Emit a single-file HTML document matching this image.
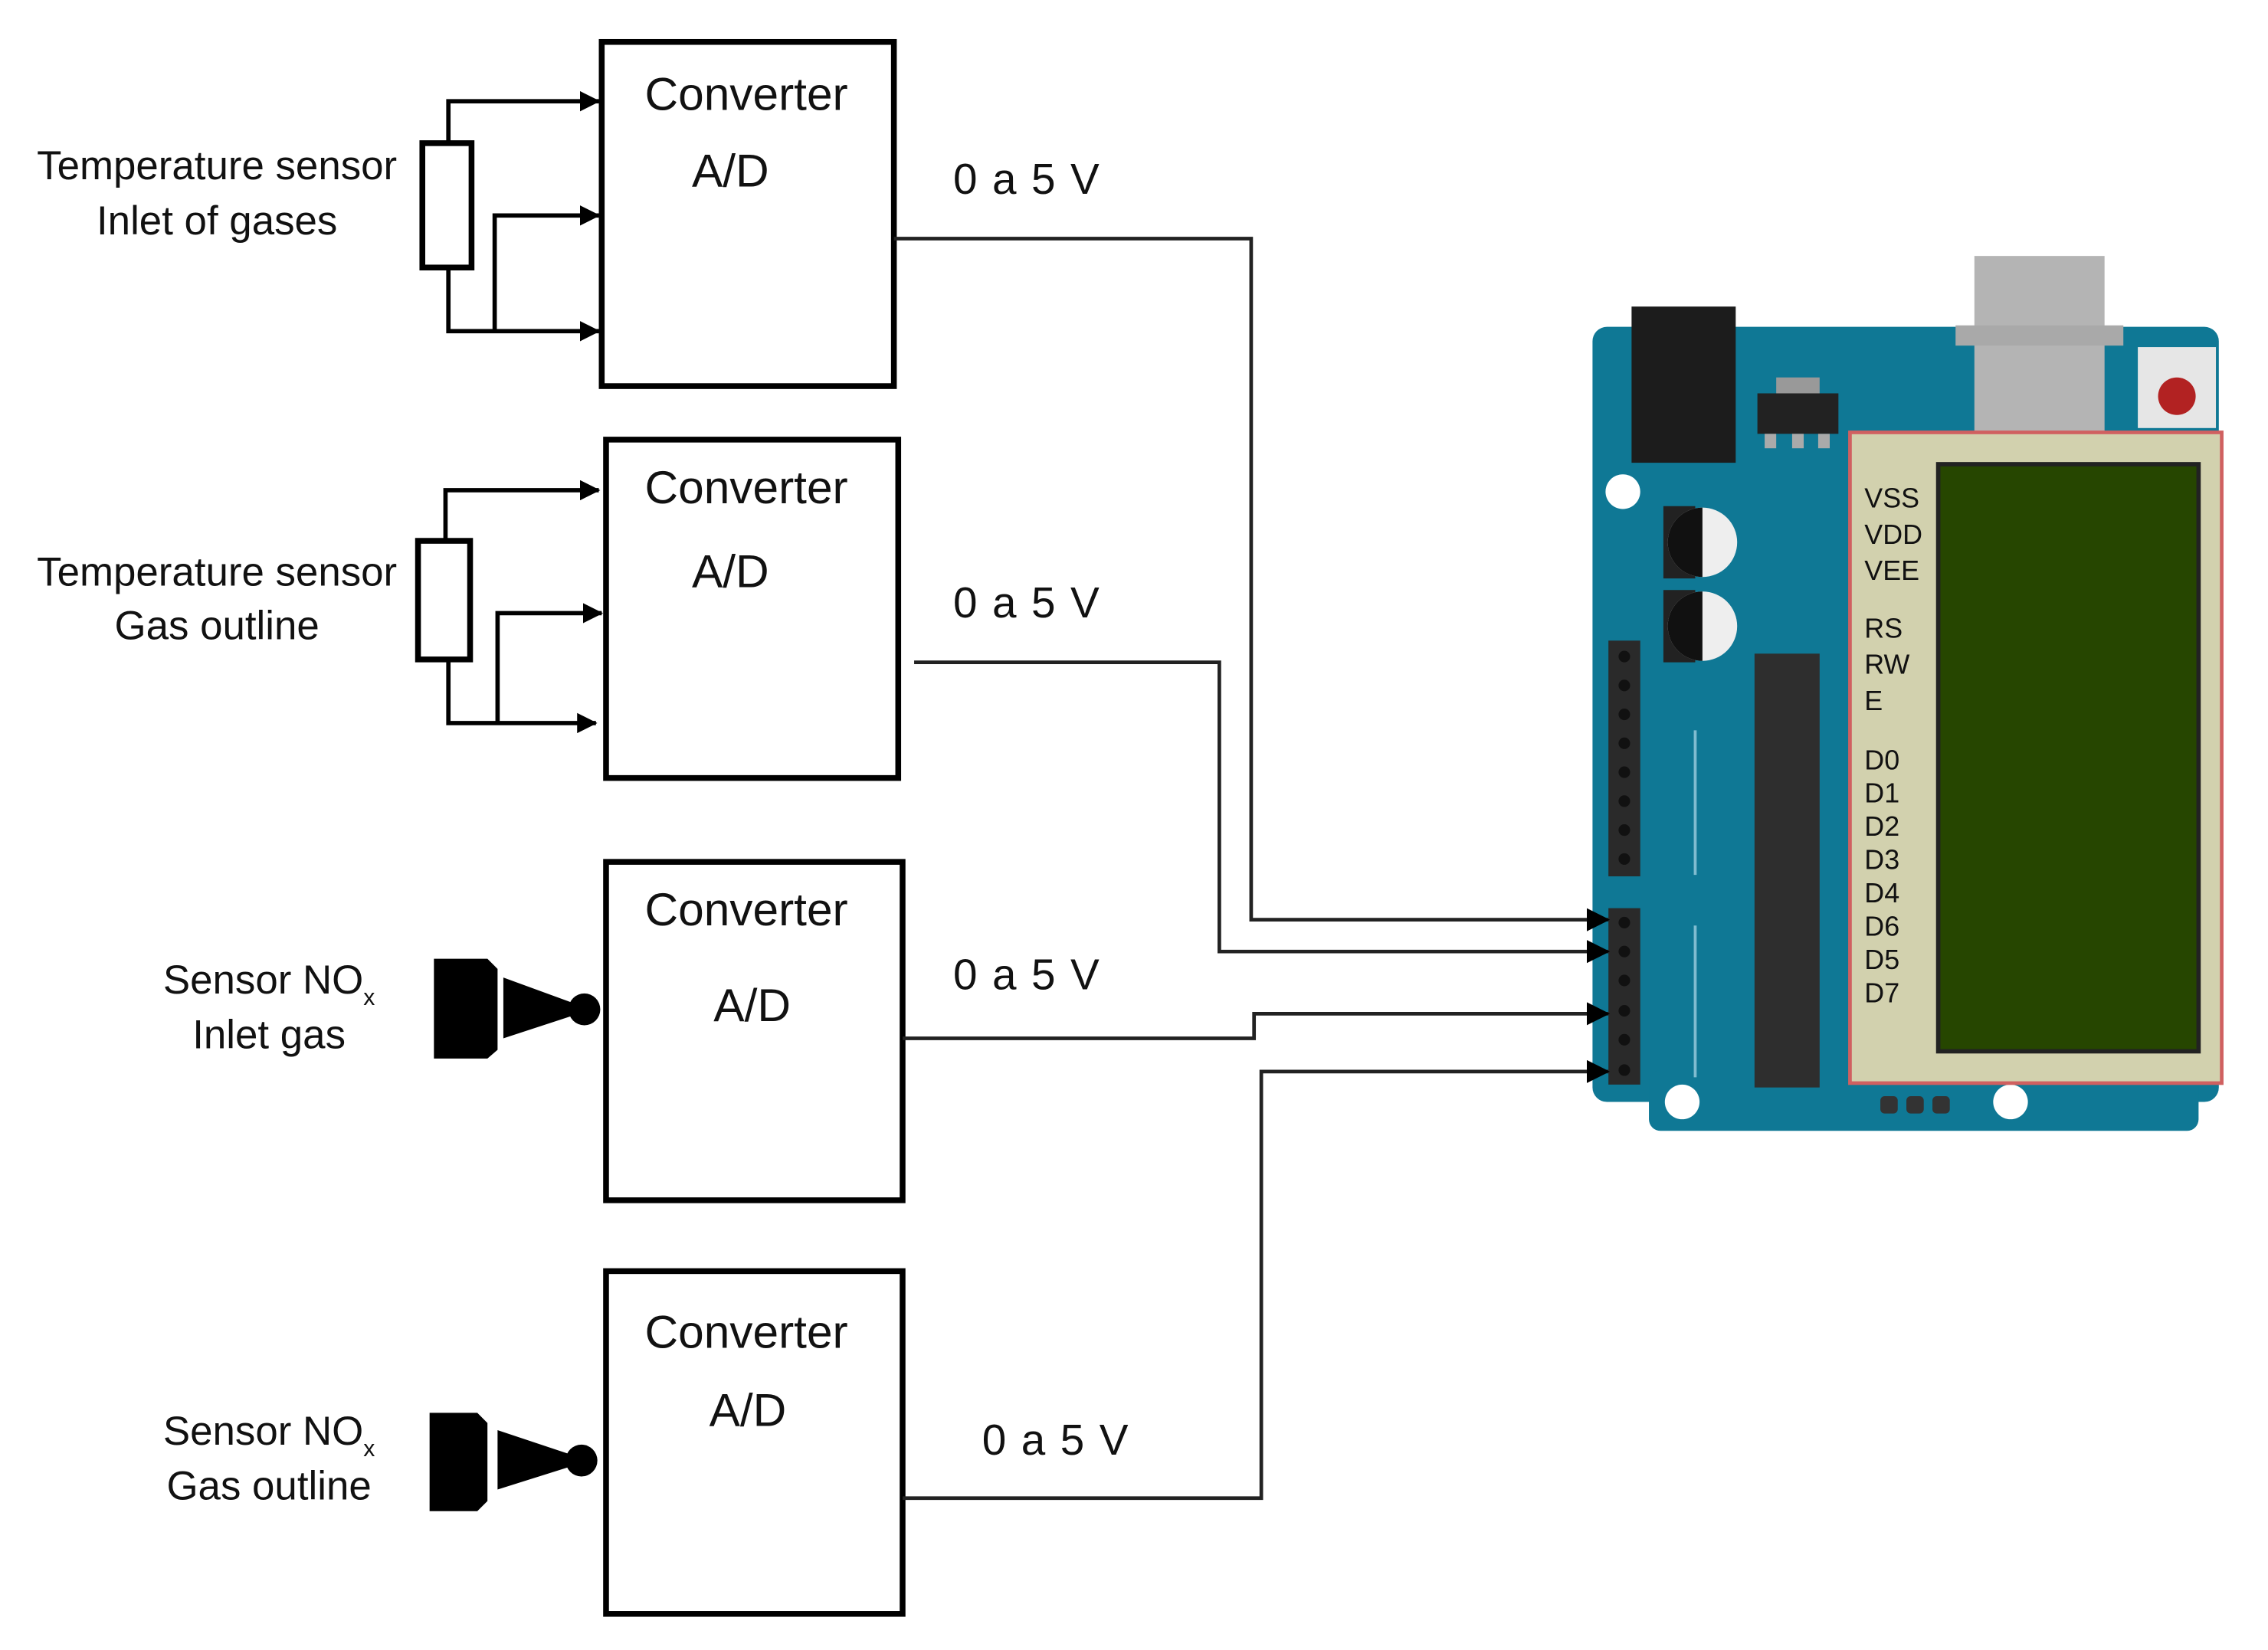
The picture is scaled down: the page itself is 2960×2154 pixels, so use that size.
<!DOCTYPE html>
<html><head><meta charset="utf-8"><style>
html,body{margin:0;padding:0;background:#fff;}
svg{display:block;}
text{font-family:"Liberation Sans",sans-serif;fill:#111;}
</style></head><body>
<svg width="2960" height="2154" viewBox="0 0 1568 1141" preserveAspectRatio="none" xmlns="http://www.w3.org/2000/svg">
<defs>
<marker id="ar" markerWidth="14" markerHeight="14" refX="13" refY="7" orient="auto" markerUnits="userSpaceOnUse">
<path d="M0,0 L14,7 L0,14 z" fill="#000"/></marker>
<marker id="ar2" markerWidth="16" markerHeight="16" refX="15" refY="8" orient="auto" markerUnits="userSpaceOnUse">
<path d="M0,0 L16,8 L0,16 z" fill="#000"/></marker>
</defs>
<g fill="#fff" stroke="#000" stroke-width="4">
<rect x="416" y="29" width="202" height="238"/>
<rect x="419" y="304" width="202" height="234"/>
<rect x="419" y="596" width="205" height="234"/>
<rect x="419" y="879" width="205" height="237"/>
</g>
<g font-size="32" text-anchor="middle">
<text x="516" y="76">Converter</text><text x="505" y="129">A/D</text>
<text x="516" y="348">Converter</text><text x="505" y="406">A/D</text>
<text x="516" y="640">Converter</text><text x="520" y="706">A/D</text>
<text x="516" y="932">Converter</text><text x="517" y="986">A/D</text>
</g>
<g font-size="30" letter-spacing="1">
<text x="659" y="134">0 a 5 V</text><text x="659" y="427">0 a 5 V</text>
<text x="659" y="684">0 a 5 V</text><text x="679" y="1006">0 a 5 V</text>
</g>
<g font-size="28" text-anchor="middle">
<text x="150" y="124">Temperature sensor</text><text x="150" y="162">Inlet of gases</text>
<text x="150" y="405">Temperature sensor</text><text x="150" y="442">Gas outline</text>
<text x="186" y="687">Sensor NO<tspan font-size="16" dy="8">x</tspan></text><text x="186" y="725">Inlet gas</text>
<text x="186" y="999">Sensor NO<tspan font-size="16" dy="8">x</tspan></text><text x="186" y="1037">Gas outline</text>
</g>
<g fill="none" stroke="#000" stroke-width="3">
<rect x="292" y="99" width="34" height="86" stroke-width="4"/>
<path d="M310,99 V70 H414" marker-end="url(#ar)"/>
<path d="M342,228 V149 H414" marker-end="url(#ar)"/>
<path d="M310,185 V229 H414" marker-end="url(#ar)"/>
<rect x="289" y="374" width="36" height="82" stroke-width="4"/>
<path d="M308,374 V339 H414" marker-end="url(#ar)"/>
<path d="M344,500 V424 H416" marker-end="url(#ar)"/>
<path d="M310,456 V500 H412" marker-end="url(#ar)"/>
</g>
<g fill="#000">
<path d="M300,663 H337 L344,670 V726 L337,732 H300 z"/>
<path d="M348,676 L400,695 L400,701 L348,718 z"/><circle cx="404" cy="698" r="11"/>
<path d="M297,977 H330 L337,984 V1038 L330,1045 H297 z"/>
<path d="M344,989 L398,1007 L398,1013 L344,1030 z"/><circle cx="402" cy="1010" r="11"/>
</g>
<rect x="1101" y="226" width="433" height="536" rx="10" fill="#0f7895"/>
<rect x="1140" y="740" width="380" height="42" rx="8" fill="#0f7895"/>
<rect x="1128" y="212" width="72" height="108" fill="#1c1c1c"/>
<rect x="1365" y="177" width="90" height="125" fill="#b4b4b4"/>
<rect x="1352" y="225" width="116" height="14" fill="#a9a9a9"/>
<rect x="1478" y="240" width="54" height="56" fill="#e6e6e6"/>
<circle cx="1505" cy="274" r="13" fill="#b22222"/>
<rect x="1228" y="261" width="30" height="12" fill="#999"/>
<rect x="1215" y="272" width="56" height="28" fill="#222"/>
<g fill="#aaa"><rect x="1220" y="300" width="8" height="10"/><rect x="1239" y="300" width="8" height="10"/><rect x="1257" y="300" width="8" height="10"/></g>
<circle cx="1122" cy="340" r="12" fill="#fff"/>
<circle cx="1163" cy="762" r="12" fill="#fff"/>
<circle cx="1390" cy="762" r="12" fill="#fff"/>
<rect x="1150" y="350" width="22" height="50" fill="#222"/><circle cx="1177" cy="375" r="24" fill="#eee"/><path d="M1177,351 A24,24 0 0 0 1177,399 z" fill="#111"/>
<rect x="1150" y="408" width="22" height="50" fill="#222"/><circle cx="1177" cy="433" r="24" fill="#eee"/><path d="M1177,409 A24,24 0 0 0 1177,457 z" fill="#111"/>
<rect x="1112" y="443" width="22" height="163" fill="#2a2a2a"/>
<rect x="1112" y="628" width="22" height="122" fill="#2a2a2a"/>
<g fill="#111"><circle cx="1123" cy="454" r="4"/><circle cx="1123" cy="474" r="4"/><circle cx="1123" cy="494" r="4"/><circle cx="1123" cy="514" r="4"/><circle cx="1123" cy="534" r="4"/><circle cx="1123" cy="554" r="4"/><circle cx="1123" cy="574" r="4"/><circle cx="1123" cy="594" r="4"/>
<circle cx="1123" cy="638" r="4"/><circle cx="1123" cy="658" r="4"/><circle cx="1123" cy="678" r="4"/><circle cx="1123" cy="699" r="4"/><circle cx="1123" cy="719" r="4"/><circle cx="1123" cy="740" r="4"/></g>
<g stroke="#7fbcd0" stroke-width="2"><line x1="1172" y1="505" x2="1172" y2="605"/><line x1="1172" y1="640" x2="1172" y2="745"/></g>
<rect x="1213" y="452" width="45" height="300" fill="#2e2e2e"/>
<g fill="#333"><rect x="1300" y="758" width="12" height="12" rx="3"/><rect x="1318" y="758" width="12" height="12" rx="3"/><rect x="1336" y="758" width="12" height="12" rx="3"/></g>
<rect x="1279" y="299" width="257" height="450" fill="#d2d1ae" stroke="#d06060" stroke-width="2.5"/>
<rect x="1340" y="321" width="180" height="406" fill="#264600" stroke="#222" stroke-width="3"/>
<g font-size="19">
<text x="1289" y="351">VSS</text><text x="1289" y="376">VDD</text><text x="1289" y="401">VEE</text>
<text x="1289" y="441">RS</text><text x="1289" y="466">RW</text><text x="1289" y="491">E</text>
<text x="1289" y="532">D0</text><text x="1289" y="555">D1</text><text x="1289" y="578">D2</text><text x="1289" y="601">D3</text>
<text x="1289" y="624">D4</text><text x="1289" y="647">D6</text><text x="1289" y="670">D5</text><text x="1289" y="693">D7</text>
</g>
<g fill="none" stroke="#222" stroke-width="2.5">
<path d="M618,165 H865 V636 H1112" marker-end="url(#ar2)"/>
<path d="M632,458 H843 V658 H1112" marker-end="url(#ar2)"/>
<path d="M624,718 H867 V701 H1112" marker-end="url(#ar2)"/>
<path d="M624,1036 H872 V741 H1112" marker-end="url(#ar2)"/>
</g>
</svg>
</body></html>
